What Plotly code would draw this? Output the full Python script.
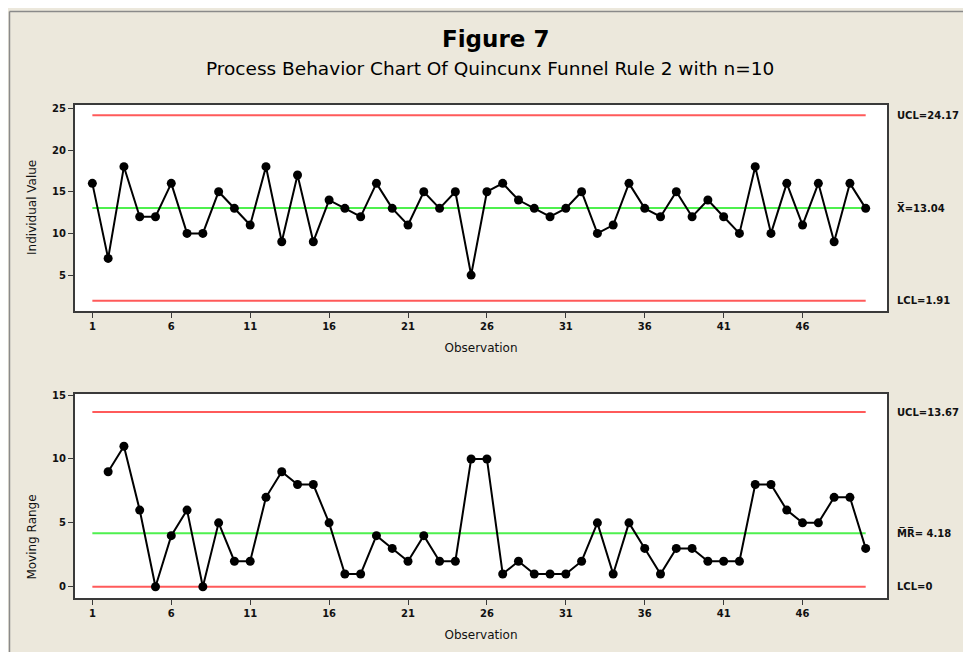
import plotly.graph_objects as go

observation = list(range(1, 51))
individual_value = [16, 7, 18, 12, 12, 16, 10, 10, 15, 13,
                    11, 18, 9, 17, 9, 14, 13, 12, 16, 13,
                    11, 15, 13, 15, 5, 15, 16, 14, 13, 12,
                    13, 15, 10, 11, 16, 13, 12, 15, 12, 14,
                    12, 10, 18, 10, 16, 11, 16, 9, 16, 13]
mr_observation = list(range(2, 51))
moving_range = [9, 11, 6, 0, 4, 6, 0, 5, 2, 2,
                7, 9, 8, 8, 5, 1, 1, 4, 3, 2,
                4, 2, 2, 10, 10, 1, 2, 1, 1, 1,
                2, 5, 1, 5, 3, 1, 3, 3, 2, 2,
                2, 8, 8, 6, 5, 5, 7, 7, 3]

i_limits = {"UCL": 24.17, "CL": 13.04, "LCL": 1.91}
mr_limits = {"UCL": 13.67, "CL": 4.18, "LCL": 0}
i_labels = ["UCL=24.17", "X\u0305=13.04", "LCL=1.91"]
mr_labels = ["UCL=13.67", "M\u0305R\u0305= 4.18", "LCL=0"]

x_ticks = [1, 6, 11, 16, 21, 26, 31, 36, 41, 46]
y1_ticks = [5, 10, 15, 20, 25]
y2_ticks = [0, 5, 10, 15]

RED = "#ff5a5a"
GREEN = "#4ef04e"
BG = "#ece8dc"
FONT = "DejaVu Sans"

fig = go.Figure()

line_x = [observation[0], observation[-1]]

for key, col in [("UCL", RED), ("CL", GREEN), ("LCL", RED)]:
    fig.add_trace(go.Scatter(x=line_x, y=[i_limits[key]] * 2, mode="lines",
                             line=dict(color=col, width=2), xaxis="x", yaxis="y",
                             showlegend=False, hoverinfo="skip"))
    fig.add_trace(go.Scatter(x=line_x, y=[mr_limits[key]] * 2, mode="lines",
                             line=dict(color=col, width=2), xaxis="x2", yaxis="y2",
                             showlegend=False, hoverinfo="skip"))

fig.add_trace(go.Scatter(x=observation, y=individual_value, mode="lines+markers",
                         line=dict(color="black", width=2),
                         marker=dict(color="black", size=9),
                         xaxis="x", yaxis="y", showlegend=False))
fig.add_trace(go.Scatter(x=mr_observation, y=moving_range, mode="lines+markers",
                         line=dict(color="black", width=2),
                         marker=dict(color="black", size=9),
                         xaxis="x2", yaxis="y2", showlegend=False))

# page body has an 8px margin: design in figure coords = screen - 8
OFF = 8
W, H = 971 - OFF, 652 - OFF
ml, mt = 75 - OFF, 105 - OFF
mr_ = W - (887 - OFF)
mb = H - (603 - OFF)
pw, ph = W - ml - mr_, H - mt - mb


def px_x(p):
    return (p - OFF - ml) / pw


def px_y(p):
    return (H - mb - (p - OFF)) / ph


tickfont = dict(family=FONT, size=10, color="#111111", weight="bold")
axis_common = dict(showgrid=False, zeroline=False, showline=True, mirror=True,
                   linecolor="#3a3a3a", linewidth=2, ticks="outside",
                   ticklen=5, tickwidth=1, tickcolor="#3a3a3a", tickfont=tickfont)
xtitlefont = dict(family=FONT, size=12, color="#111")
ytitlefont = dict(family=FONT, size=12, color="#111")

fig.update_layout(
    width=W, height=H,
    margin=dict(l=ml, r=mr_, t=mt, b=mb),
    paper_bgcolor=BG, plot_bgcolor="white",
    xaxis=dict(domain=[0, 1], anchor="y", range=[-0.1, 51.35], tickvals=x_ticks,
               title=dict(text="Observation", font=xtitlefont, standoff=13),
               **axis_common),
    yaxis=dict(domain=[px_y(313), 1], anchor="x", range=[0.7, 25.4], tickvals=y1_ticks,
               **axis_common),
    xaxis2=dict(domain=[0, 1], anchor="y2", range=[-0.1, 51.35], tickvals=x_ticks,
                title=dict(text="Observation", font=xtitlefont, standoff=13),
                **axis_common),
    yaxis2=dict(domain=[0, px_y(397)], anchor="x2", range=[-0.88, 15.08], tickvals=y2_ticks,
                **axis_common),
)

# y-axis titles
fig.add_annotation(text="Individual Value", xref="paper", yref="paper",
                   x=px_x(32), y=px_y(209), xanchor="center", yanchor="middle",
                   textangle=-90, showarrow=False, font=ytitlefont)
fig.add_annotation(text="Moving Range", xref="paper", yref="paper",
                   x=px_x(32), y=px_y(542), xanchor="center", yanchor="middle",
                   textangle=-90, showarrow=False, font=ytitlefont)

# outer frame grey border line (top and left)
fig.add_shape(type="line", xref="paper", yref="paper", x0=px_x(9.5), x1=px_x(9.5),
              y0=px_y(700), y1=px_y(10.5), line=dict(color="#8a8a8a", width=1.5), layer="below")
fig.add_shape(type="line", xref="paper", yref="paper", x0=px_x(9.5), x1=px_x(1000),
              y0=px_y(10.5), y1=px_y(10.5), line=dict(color="#8a8a8a", width=1.5), layer="below")

# titles
fig.add_annotation(text="<b>Figure 7</b>", xref="paper", yref="paper",
                   x=px_x(495), y=px_y(38), xanchor="center", yanchor="middle",
                   showarrow=False, font=dict(family=FONT, size=23, color="black"))
fig.add_annotation(text="Process Behavior Chart Of Quincunx Funnel Rule 2 with n=10",
                   xref="paper", yref="paper", x=px_x(490), y=px_y(68),
                   xanchor="center", yanchor="middle", showarrow=False,
                   font=dict(family=FONT, size=18.5, color="black"))

labfont = dict(family=FONT, size=10, color="#111111")
for key, lab in zip(["UCL", "CL", "LCL"], i_labels):
    fig.add_annotation(text="<b>" + lab + "</b>", xref="paper", yref="y",
                       x=px_x(895), y=i_limits[key], xanchor="left", yanchor="middle",
                       showarrow=False, font=labfont)
for key, lab in zip(["UCL", "CL", "LCL"], mr_labels):
    fig.add_annotation(text="<b>" + lab + "</b>", xref="paper", yref="y2",
                       x=px_x(895), y=mr_limits[key], xanchor="left", yanchor="middle",
                       showarrow=False, font=labfont)

fig.write_html("out.html")
